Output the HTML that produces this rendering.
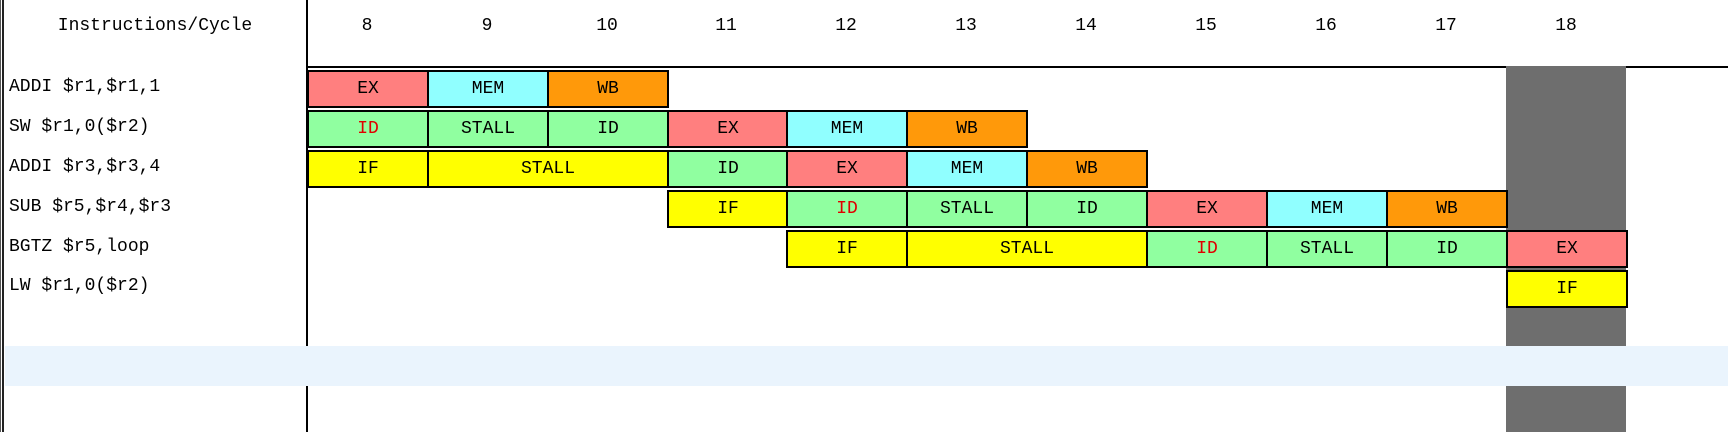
<!DOCTYPE html>
<html><head><meta charset="utf-8"><style>
body{margin:0;width:1728px;height:432px;background:#fff;position:relative;overflow:hidden;font-family:"Liberation Mono","Noto Sans CJK SC",monospace;}
.a{position:absolute}
.c{position:absolute;box-sizing:border-box;border:2px solid #000;height:38px;text-align:center;line-height:35px;font-size:18px;color:#000}
.l{position:absolute;left:9px;font-size:18px;line-height:20px}
.h{position:absolute;top:16px;font-size:18px;width:120px;text-align:center}
.EX{background:#ff7f7f}.MEM{background:#90ffff}.WB{background:#ff990a}.ID{background:#90ffa0}.IF{background:#ffff00}.STALL{background:#90ffa0}
.r{color:#e00000}
</style></head><body>
<div class="a" style="left:0;top:0;width:1px;height:432px;background:#555"></div>
<div class="a" style="left:2px;top:0;width:2px;height:432px;background:#222"></div>
<div class="a" style="left:306px;top:0;width:2px;height:432px;background:#000"></div>
<div class="a" style="left:306px;top:66px;width:1422px;height:2px;background:#000"></div>
<div class="a" style="left:1506px;top:66px;width:120px;height:366px;background:#6e6e6e"></div>
<div class="a" style="left:5px;top:346px;width:1723px;height:40px;background:#eaf4fd"></div>
<div class="a" style="left:10px;top:16px;width:290px;text-align:center;font-size:18px">Instructions/Cycle</div>
<div class="h" style="left:307px">8</div><div class="h" style="left:427px">9</div><div class="h" style="left:547px">10</div><div class="h" style="left:666px">11</div><div class="h" style="left:786px">12</div><div class="h" style="left:906px">13</div><div class="h" style="left:1026px">14</div><div class="h" style="left:1146px">15</div><div class="h" style="left:1266px">16</div><div class="h" style="left:1386px">17</div><div class="h" style="left:1506px">18</div>
<div class="l" style="top:77px">ADDI $r1,$r1,1</div>
<div class="l" style="top:117px">SW $r1,0($r2)</div>
<div class="l" style="top:157px">ADDI $r3,$r3,4</div>
<div class="l" style="top:197px">SUB $r5,$r4,$r3</div>
<div class="l" style="top:237px">BGTZ $r5,loop</div>
<div class="l" style="top:276px">LW $r1,0($r2)</div>
<div id="g"></div>
<script>
var rows=[[70,[[0,1,'EX'],[1,1,'MEM'],[2,1,'WB']]],
[110,[[0,1,'ID',1],[1,1,'STALL'],[2,1,'ID'],[3,1,'EX'],[4,1,'MEM'],[5,1,'WB']]],
[150,[[0,1,'IF'],[1,2,'STALL','IF'],[3,1,'ID'],[4,1,'EX'],[5,1,'MEM'],[6,1,'WB']]],
[190,[[3,1,'IF'],[4,1,'ID',1],[5,1,'STALL'],[6,1,'ID'],[7,1,'EX'],[8,1,'MEM'],[9,1,'WB']]],
[230,[[4,1,'IF'],[5,2,'STALL','IF'],[7,1,'ID',1],[8,1,'STALL'],[9,1,'ID'],[10,1,'EX']]],
[270,[[10,1,'IF']]]];
var h='';
rows.forEach(function(r){r[1].forEach(function(c){
var x=Math.round(307+c[0]*119.85),w=Math.round(c[1]*119.85)+2;
var cls=c[3]&&c[3]!==1?c[3]:c[2];
h+='<div class="c '+cls+'" style="left:'+x+'px;top:'+r[0]+'px;width:'+w+'px"><span'+(c[3]===1?' class="r"':'')+'>'+c[2]+'</span></div>';});});
document.getElementById('g').innerHTML=h;
</script>
</body></html>
